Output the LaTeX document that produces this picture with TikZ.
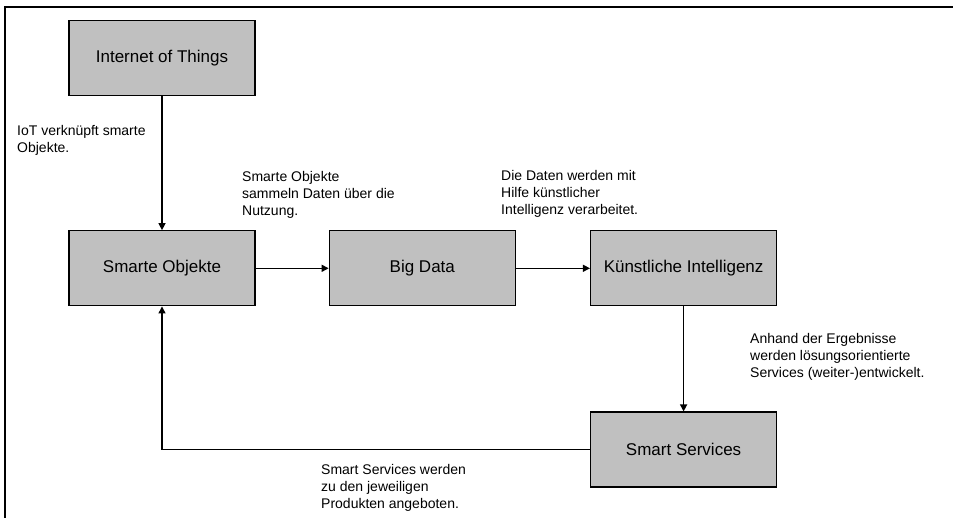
\documentclass[tikz,border=0pt]{standalone}
\usepackage{fontspec}
\setmainfont{Liberation Sans}
\usepackage{xcolor}
\usepackage{tikz}
\usetikzlibrary{arrows.meta,positioning}

\definecolor{boxgray}{RGB}{192,192,192}

\begin{document}
\begin{tikzpicture}[
    x=1pt, y=-1pt,
    box/.style={rectangle, draw, line width=1.3pt, fill=boxgray, minimum width=186pt, minimum height=75pt, inner sep=0pt, font=\fontsize{17}{20}\selectfont},
    note/.style={anchor=north west, align=left, inner sep=0pt, font=\fontsize{14}{17}\selectfont},
    arrow/.style={-{Triangle[length=7pt,width=7pt]}, line width=1.3pt}
]
\useasboundingbox (0,0) rectangle (953,518);

% Frame
\draw[line width=2.2pt] (5,518) -- (5,7) -- (953,7);

% Boxes
\node[box] (iot) at (162,58) {Internet of Things};
\node[box, below=134pt of iot] (objekte) {Smarte Objekte};
\node[box, right=73pt of objekte] (bigdata) {Big Data};
\node[box, right=74pt of bigdata] (ki) {Künstliche Intelligenz};
\node[box, below=105pt of ki] (services) {Smart Services};

% Notes
\node[note] (n1) at (17,125) {IoT verknüpft smarte\\Objekte.};
\node[note] (n2) at (242,171) {Smarte Objekte\\sammeln Daten über die\\Nutzung.};
\node[note] (n3) at (501,170) {Die Daten werden mit\\Hilfe künstlicher\\Intelligenz verarbeitet.};
\node[note] (n4) at (750,333) {Anhand der Ergebnisse\\werden lösungsorientierte\\Services (weiter-)entwickelt.};
\node[note] (n5) at (321,464) {Smart Services werden\\zu den jeweiligen\\Produkten angeboten.};

% Arrows
\draw[arrow] (iot) -- (objekte);
\draw[arrow] (objekte) -- (bigdata);
\draw[arrow] (bigdata) -- (ki);
\draw[arrow] (ki) -- (services);
\draw[arrow] (services.west) -| (objekte.south);

\end{tikzpicture}
\end{document}
